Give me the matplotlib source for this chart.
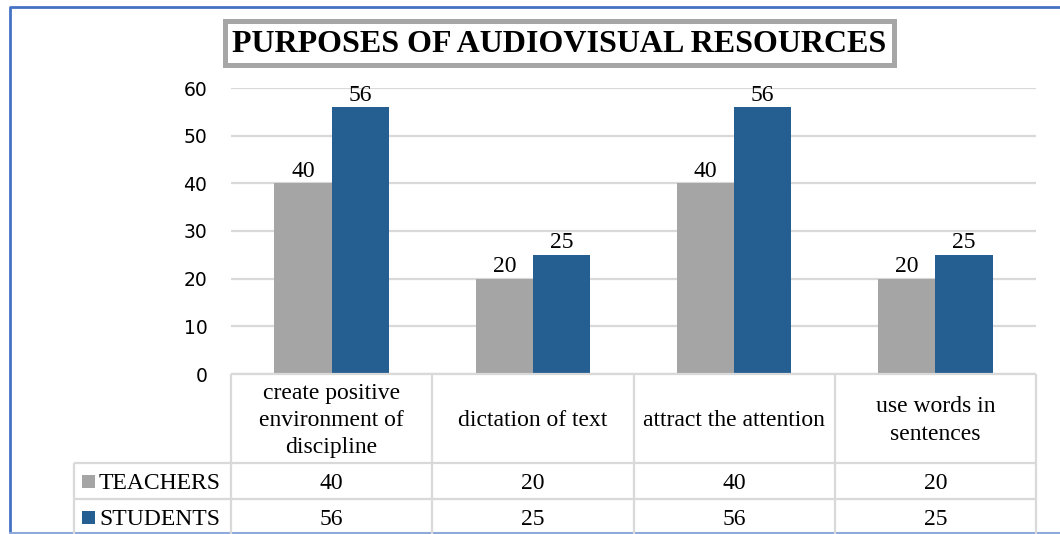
import numpy as np
import matplotlib
matplotlib.use("Agg")
import matplotlib.pyplot as plt
from matplotlib.patches import Rectangle

# chart data
categories = ["create positive\nenvironment of\ndiscipline", "dictation of text",
              "attract the attention", "use words in\nsentences"]
series_names = ["TEACHERS", "STUDENTS"]
teachers = [40, 20, 40, 20]
students = [56, 25, 56, 25]
yticks = [0, 10, 20, 30, 40, 50, 60]
title = "PURPOSES OF AUDIOVISUAL RESOURCES"

colors = ["#a5a5a5", "#255e91"]
grid_col = "#d9d9d9"
serif = "Liberation Serif"
fs = 17

W, H = 1060, 534
fig = plt.figure(figsize=(W / 100, H / 100), dpi=100)

# pixel helper: left/top/right/bottom -> figure fraction rect
def px_rect(x0, y0, x1, y1):
    return [x0 / W, 1 - y1 / H, (x1 - x0) / W, (y1 - y0) / H]

plot_left, plot_right = 231, 1036
plot_top, plot_bottom = 88, 374

ax = fig.add_axes(px_rect(plot_left, plot_top, plot_right, plot_bottom))
n = len(categories)
x = np.arange(n)
bw = 0.284
values = [teachers, students]
for k, vals in enumerate(values):
    offs = (k - 0.5) * bw
    bars = ax.bar(x + offs, vals, width=bw, color=colors[k], zorder=3)
    for b, v in zip(bars, vals):
        ax.annotate(str(v), (b.get_x() + b.get_width() / 2, v), xytext=(0, 1),
                    textcoords="offset points", ha="center", va="bottom",
                    fontsize=fs, family=serif, color="#000000")

ax.set_xlim(-0.5, n - 0.5)
ax.set_ylim(0, 60)
ax.set_yticks(yticks)
ax.set_yticklabels([str(t) for t in yticks], fontsize=13.5, color="#000000")
ax.tick_params(axis="y", length=0, pad=17)
ax.set_xticks([])
ax.yaxis.grid(True, color=grid_col, linewidth=1.6, zorder=0)
for s in ax.spines.values():
    s.set_visible(False)

# overlay in pixel coordinates for the frame, title box and data table
ov = fig.add_axes([0, 0, 1, 1], zorder=5)
ov.set_xlim(0, W)
ov.set_ylim(H, 0)
ov.axis("off")
ov.patch.set_alpha(0)

# outer frame
ov.plot([10, 10, W + 5], [H - 0.5, 7, 7], color="#4472c4", lw=2.0)
ov.plot([10, W], [H - 0.8, H - 0.8], color="#8eaadb", lw=1.5)

# title box
ov.add_patch(Rectangle((224.5, 21), 669, 44, fill=True, facecolor="white",
                       edgecolor="#a6a6a6", lw=3.6))
ov.text(559, 44, title, ha="center", va="center", fontsize=23,
        fontweight="bold", family=serif, color="#000000")

# data table
col_w = (plot_right - plot_left) / n
row_head_left = 74
hdr_bottom = 463
row_h = 36
tl = dict(color=grid_col, lw=1.6, solid_capstyle="butt")
ov.plot([plot_left, plot_right], [plot_bottom, plot_bottom], **tl)
for yy in [hdr_bottom, hdr_bottom + row_h]:
    ov.plot([row_head_left, plot_right], [yy, yy], **tl)
ov.plot([row_head_left, row_head_left], [hdr_bottom, H], **tl)
for j in range(n + 1):
    xx = plot_left + j * col_w
    ov.plot([xx, xx], [plot_bottom, H], **tl)

for j, cat in enumerate(categories):
    cx = plot_left + (j + 0.5) * col_w
    ov.text(cx, (plot_bottom + hdr_bottom) / 2 + 2, cat, ha="center", va="center",
            fontsize=fs, family=serif, linespacing=1.38, color="#000000")

for k, (name, vals) in enumerate(zip(series_names, values)):
    cy = hdr_bottom + (k + 0.5) * row_h
    ov.add_patch(Rectangle((82, cy - 6), 13, 13, color=colors[k], lw=0))
    ov.text(99, cy + 2.5, name, ha="left", va="center", fontsize=fs,
            family=serif, color="#000000")
    for j, v in enumerate(vals):
        cx = plot_left + (j + 0.5) * col_w
        ov.text(cx, cy + 2.5, str(v), ha="center", va="center", fontsize=fs,
                family=serif, color="#000000")

fig.savefig("out.png", dpi=100, facecolor="white")
